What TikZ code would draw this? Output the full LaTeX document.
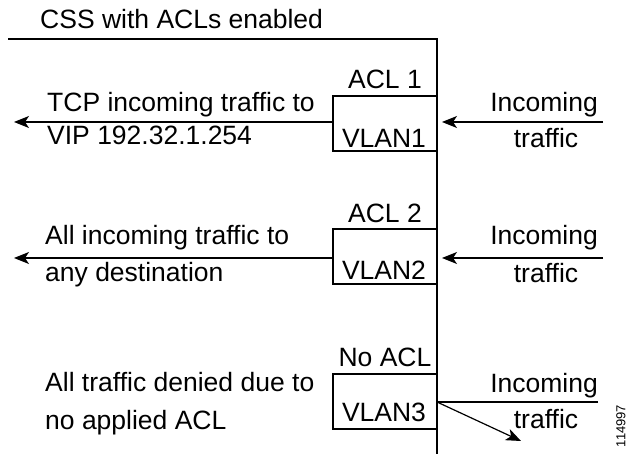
\documentclass[tikz,border=0pt]{standalone}
\usepackage{fontspec}
\setmainfont{Liberation Sans}
\usetikzlibrary{arrows.meta}
\begin{document}
\begin{tikzpicture}[x=1pt,y=-1pt,
  ln/.style={line width=1.2pt},
  arr/.style={ln,-{Stealth[length=15pt,width=12pt,inset=4pt]}},
  vbox/.style={draw,ln,minimum width=104pt,minimum height=55pt,inner sep=0pt,outer sep=0pt},
  txt/.style={inner sep=0pt,font=\fontsize{26.5}{31}\selectfont},
  lbl/.style={txt,anchor=base west},
  rlbl/.style={txt,anchor=base east},
  clbl/.style={txt,anchor=base}]
\useasboundingbox (0,0) rectangle (630,454);

% frame
\coordinate (tl) at (8,39);
\coordinate (tr) at (437,39);
\coordinate (bot) at (437,454);
\draw[ln] (tl) -- (tr) -- (bot);
\node[lbl] (title) at (40,28.5) {CSS with ACLs enabled};

% boxes
\node[vbox] (b1) at (385,123.5) {};
\node[vbox] (b2) at (385,256.5) {};
\node[vbox] (b3) at (385,401.5) {};

% row 1
\node[clbl] (acl1) at (385,89) {ACL 1};
\node[clbl] (v1) at (384,148) {VLAN1};
\node[lbl] (l1a) at (47,112) {TCP incoming traffic to};
\node[lbl] (l1b) at (47,145) {VIP 192.32.1.254};
\node[rlbl] (r1a) at (598,112) {Incoming};
\node[clbl] (r1b) at (546,148) {traffic};
\coordinate (o1) at (14,122);
\coordinate (i1) at (603,122);
\coordinate (e1) at (437,122);
\draw[arr] (b1.west |- o1) -- (o1);
\draw[arr,shorten >=5pt] (i1) -- (e1);

% row 2
\node[clbl] (acl2) at (385,223) {ACL 2};
\node[clbl] (v2) at (384,280) {VLAN2};
\node[lbl] (l2a) at (45,245) {All incoming traffic to};
\node[lbl] (l2b) at (45,282) {any destination};
\node[rlbl] (r2a) at (598,245) {Incoming};
\node[clbl] (r2b) at (546,283) {traffic};
\coordinate (o2) at (14,258);
\coordinate (i2) at (603,258);
\coordinate (e2) at (437,258);
\draw[arr] (b2.west |- o2) -- (o2);
\draw[arr,shorten >=5pt] (i2) -- (e2);

% row 3
\node[clbl] (acl3) at (385,367) {No ACL};
\node[clbl] (v3) at (384,422) {VLAN3};
\node[lbl] (l3a) at (45,392) {All traffic denied due to};
\node[lbl] (l3b) at (45,430) {no applied ACL};
\node[rlbl] (r3a) at (598,393) {Incoming};
\node[clbl] (r3b) at (546,429) {traffic};
\coordinate (i3) at (598,402);
\coordinate (d3) at (521,441);
\draw[ln] (i3) -- (b3.east |- i3);
\draw[arr] (b3.east |- i3) -- (d3);

% figure number
\node[inner sep=0pt,rotate=90,font=\fontsize{13}{15}\selectfont] (fig) at (621,426) {114997};
\end{tikzpicture}
\end{document}
